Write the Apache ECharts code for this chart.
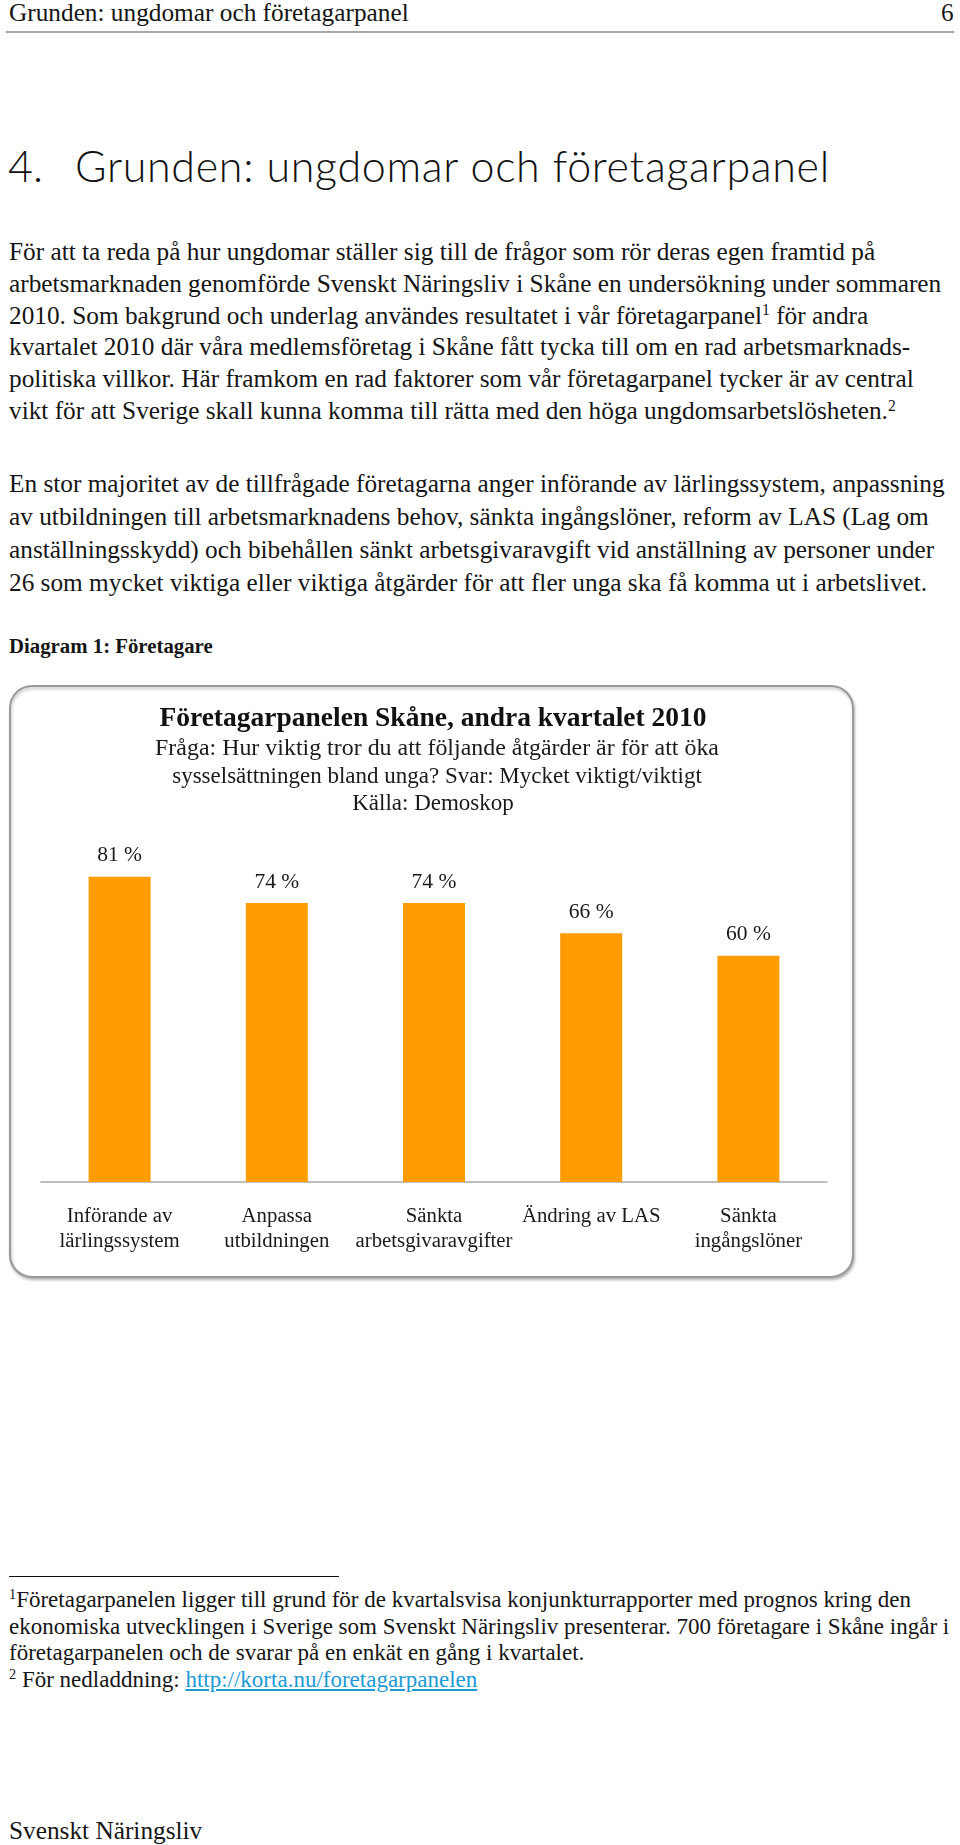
<!DOCTYPE html>
<html>
<head>
<meta charset="utf-8">
<script src="https://cdn.jsdelivr.net/npm/echarts@6/dist/echarts.min.js"></script>
<style>
  html, body { margin: 0; padding: 0; background: #fff; }
  body { width: 960px; height: 1845px; position: relative; overflow: hidden; }
  .ln { position: absolute; white-space: nowrap; font-family: 'Liberation Serif', 'Times New Roman', serif; color: #151515; }
  sup { font-size: 62%; vertical-align: 0; position: relative; top: -0.55em; }
  a { color: #1c9ad6; text-decoration: underline; }
  #chart { position: absolute; left: 0; top: 670px; width: 880px; height: 625px; }
</style>
</head>
<body>
<div id="chart"></div>
<script>
// ---------- data ----------
const categories = ['Införande av\nlärlingssystem', 'Anpassa\nutbildningen', 'Sänkta\narbetsgivaravgifter', 'Ändring av LAS', 'Sänkta\ningångslöner'];
const shares = [81, 74, 74, 66, 60];
const chartTitle = 'Företagarpanelen Skåne, andra kvartalet 2010';
const chartSubtitle = ['Fråga: Hur viktig tror du att följande åtgärder är för att öka', 'sysselsättningen bland unga? Svar: Mycket viktigt/viktigt', 'Källa: Demoskop'];

const headerText = 'Grunden: ungdomar och företagarpanel';
const pageNumber = '6';
const sectionNumber = '4.';
const sectionTitle = 'Grunden: ungdomar och företagarpanel';
const para1 = [
  'För att ta reda på hur ungdomar ställer sig till de frågor som rör deras egen framtid på',
  'arbetsmarknaden genomförde Svenskt Näringsliv i Skåne en undersökning under sommaren',
  '2010. Som bakgrund och underlag användes resultatet i vår företagarpanel<sup>1</sup> för andra',
  'kvartalet 2010 där våra medlemsföretag i Skåne fått tycka till om en rad arbetsmarknads-',
  'politiska villkor. Här framkom en rad faktorer som vår företagarpanel tycker är av central',
  'vikt för att Sverige skall kunna komma till rätta med den höga ungdomsarbetslösheten.<sup>2</sup>'
];
const para2 = [
  'En stor majoritet av de tillfrågade företagarna anger införande av lärlingssystem, anpassning',
  'av utbildningen till arbetsmarknadens behov, sänkta ingångslöner, reform av LAS (Lag om',
  'anställningsskydd) och bibehållen sänkt arbetsgivaravgift vid anställning av personer under',
  '26 som mycket viktiga eller viktiga åtgärder för att fler unga ska få komma ut i arbetslivet.'
];
const diagramCaption = 'Diagram 1: Företagare';
const footnotes = [
  '<sup>1</sup>Företagarpanelen ligger till grund för de kvartalsvisa konjunkturrapporter med prognos kring den',
  'ekonomiska utvecklingen i Sverige som Svenskt Näringsliv presenterar. 700 företagare i Skåne ingår i',
  'företagarpanelen och de svarar på en enkät en gång i kvartalet.',
  '<sup>2</sup> För nedladdning: <a>http://korta.nu/foretagarpanelen</a>'
];
const footerText = 'Svenskt Näringsliv';

// ---------- page text ----------
function line(html, x, cy, size, extra) {
  const d = document.createElement('div');
  d.className = 'ln';
  d.innerHTML = html;
  d.style.left = x + 'px';
  d.style.top = (cy - size * 0.66) + 'px';
  d.style.fontSize = size + 'px';
  d.style.lineHeight = (size * 1.2) + 'px';
  if (extra) Object.assign(d.style, extra);
  document.body.appendChild(d);
  return d;
}
function rule(x, y, w, h, color) {
  const d = document.createElement('div');
  Object.assign(d.style, { position: 'absolute', left: x + 'px', top: y + 'px', width: w + 'px', height: h + 'px', background: color });
  document.body.appendChild(d);
}

const BODY = 25.3;
line(headerText, 9, 14, BODY);
const pn = line(pageNumber, 0, 14, BODY);
pn.style.left = (954 - pn.offsetWidth) + 'px';
rule(6, 31, 948, 2, '#a8a8a8');

const secFont = "Lato, 'Open Sans', sans-serif";
const s1 = line(sectionNumber, 8, 168, 43, { fontFamily: secFont, fontWeight: '300', color: '#111' });
const s2 = line(sectionTitle, 75, 168, 43, { fontFamily: secFont, fontWeight: '300', color: '#111' });
(function fit() {
  const target = 830 - 75;
  const w = s2.offsetWidth;
  const n = sectionTitle.length;
  s2.style.letterSpacing = ((target - w) / n) + 'px';
})();

const p1y = [253, 284.5, 316.5, 348, 380, 412];
para1.forEach((t, i) => line(t, 9, p1y[i], BODY));
const p2y = [485, 517.5, 550.5, 583.5];
para2.forEach((t, i) => line(t, 9, p2y[i], BODY));
line(diagramCaption, 9, 648, 20.8, { fontWeight: 'bold' });

rule(9, 1575.5, 330, 1.5, '#111');
const fy = [1601, 1628, 1654.5, 1681];
footnotes.forEach((t, i) => line(t, 9, fy[i], 23));
line(footerText, 9, 1832, BODY);

// ---------- chart ----------
const chart = echarts.init(document.getElementById('chart'));
const serif = "'Liberation Serif', 'Times New Roman', serif";
const cx = 433;
chart.setOption({
  animation: false,
  graphic: [
    { type: 'rect', shape: { x: 10, y: 16, width: 843, height: 591, r: 22 },
      style: { fill: '#fff', stroke: '#9a9a9a', lineWidth: 2, shadowBlur: 3, shadowOffsetX: 1, shadowOffsetY: 2, shadowColor: 'rgba(0,0,0,0.25)' }, z: -10 },
    { type: 'text', x: cx, y: 49, style: { text: chartTitle, font: 'bold 27.5px ' + serif, fill: '#111', align: 'center', verticalAlign: 'middle' } },
    { type: 'text', x: cx + 4, y: 79, scaleX: 1.04, style: { text: chartSubtitle[0], font: '23px ' + serif, fill: '#1a1a1a', align: 'center', verticalAlign: 'middle' } },
    { type: 'text', x: cx + 4, y: 106.5, style: { text: chartSubtitle[1], font: '23px ' + serif, fill: '#1a1a1a', align: 'center', verticalAlign: 'middle' } },
    { type: 'text', x: cx, y: 133.5, style: { text: chartSubtitle[2], font: '23px ' + serif, fill: '#1a1a1a', align: 'center', verticalAlign: 'middle' } }
  ],
  grid: { left: 41, right: 53, top: 135, bottom: 113, containLabel: false },
  xAxis: {
    type: 'category',
    data: categories,
    axisLine: { lineStyle: { color: '#a9a9a9', width: 1.5 } },
    axisTick: { show: false },
    axisLabel: { margin: 22, fontFamily: serif, fontSize: 20.8, lineHeight: 25, color: '#1a1a1a', interval: 0 }
  },
  yAxis: { type: 'value', min: 0, max: 100, show: false, splitLine: { show: false } },
  series: [{
    type: 'bar',
    data: shares,
    barWidth: 62,
    itemStyle: { color: '#FF9C00' },
    label: { show: true, position: 'top', distance: 10, formatter: '{c} %', fontFamily: serif, fontSize: 21.5, color: '#1a1a1a' }
  }]
});
</script>
</body>
</html>
